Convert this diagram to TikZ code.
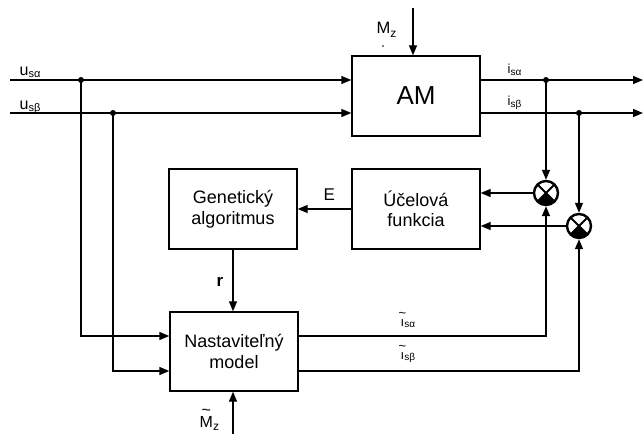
\documentclass[tikz,border=0pt]{standalone}
\usepackage{fontspec}
\setmainfont{Liberation Sans}
\usetikzlibrary{arrows.meta,calc}
\newcommand\tld[2]{\ooalign{#2\cr\hidewidth\raisebox{#1}{\textasciitilde}\hidewidth\cr}}
\newcommand\sbs[3]{\raisebox{-#1}{\fontsize{#2}{#2}\selectfont #3}}
\newcommand\fsz[1]{\fontsize{#1}{#1}\selectfont}
\begin{document}
\begin{tikzpicture}[x=1bp,y=-1bp,line width=1.4bp,
  arr/.style={-{Triangle[length=10bp,width=8bp]}},
  blk/.style={draw,rectangle,minimum width=128bp,minimum height=80bp,inner sep=0pt,align=center,font=\fontsize{18bp}{20.5bp}\selectfont},
  jdot/.style={circle,fill,inner sep=0pt,minimum size=6bp},
  lbl/.style={anchor=base west,inner sep=0pt},
  sumnode/.style={circle,draw,line width=2.4bp,minimum size=24bp,inner sep=0pt,
    path picture={\draw[line width=1.9bp] (path picture bounding box.south west) -- (path picture bounding box.north east)
      (path picture bounding box.north west) -- (path picture bounding box.south east);
      \fill (path picture bounding box.center) -- (path picture bounding box.south west) -- (path picture bounding box.south east) -- cycle;}}]
\useasboundingbox (0,0) rectangle (643,434);
% blocks
\node[blk,font=\fontsize{26bp}{26bp}\selectfont] (AM) at (416,96) {AM};
\node[blk] (UF) at (416,209) {Účelová\\funkcia};
\node[blk] (GA) at (233,209) {Genetický\\algoritmus};
\node[blk,minimum height=79bp] (NM) at (234,351.5) {Nastaviteľný\\model};
% sums
\node[sumnode] (S1) at (546,193) {};
\node[sumnode] (S2) at (579,226) {};
% coordinates
\coordinate (inA) at (10,80);
\coordinate (inB) at (10,113);
\coordinate (outA) at (643,80);
\coordinate (outB) at (643,113);
\coordinate (yA) at (0,336);
\coordinate (yB) at (0,371);
\coordinate (mzTop) at (413,8);
\coordinate (mtBot) at (233,434);
% junction dots
\node[jdot] (jA) at (81,80) {};
\node[jdot] (jB) at (113,113) {};
\node[jdot] (oA) at (546,80) {};
\node[jdot] (oB) at (579,113) {};
% connectors
\draw[arr] (inA) -- (inA -| AM.west);
\draw[arr] (inB) -- (inB -| AM.west);
\draw[arr] (jA.center) |- (NM.west |- yA);
\draw[arr] (jB.center) |- (NM.west |- yB);
\draw[arr] (AM.east |- inA) -- (outA);
\draw[arr] (AM.east |- inB) -- (outB);
\draw[arr] (oA.center) -- (S1.north);
\draw[arr] (oB.center) -- (S2.north);
\draw[arr] (S1.west) -- (S1.west -| UF.east);
\draw[arr] (S2.west) -- (S2.west -| UF.east);
\draw[arr] (UF.west) -- (GA.east);
\draw[arr] (GA.south) -- (GA.south |- NM.north);
\draw[arr] (NM.east |- yA) -| (S1.south);
\draw[arr] (NM.east |- yB) -| (S2.south);
\draw[arr] (mzTop) -- (mzTop |- AM.north);
\draw[arr] (mtBot) -- (mtBot |- NM.south);
% labels
\node[lbl,font=\fsz{16bp}] (lua) at (19,76) {u\sbs{1.5bp}{11bp}{sα}};
\node[lbl,font=\fsz{16bp}] (lub) at (19,110) {u\sbs{1.5bp}{11bp}{sβ}};
\node[lbl,font=\fsz{13bp}] (lia) at (507,74) {i\sbs{1.5bp}{10bp}{sα}};
\node[lbl,font=\fsz{13bp}] (lib) at (507,106) {i\sbs{1.5bp}{10bp}{sβ}};
\node[lbl,font=\fsz{16.5bp}] (lmz) at (376,34) {M\sbs{4bp}{12bp}{z}};
\node[circle,fill,inner sep=0pt,minimum size=1.8bp] (mzdot) at (383,46) {};
\node[lbl,font=\fsz{17bp}] (lE) at (323,201) {E};
\node[lbl,font=\fsz{17bp}\bfseries] (lr) at (216,287) {r};
\node[lbl,font=\fsz{13bp}] (lta) at (400,326) {\tld{0.62em}{ı}\sbs{1.5bp}{10bp}{sα}};
\node[lbl,font=\fsz{13bp}] (ltb) at (400,359) {\tld{0.62em}{ı}\sbs{1.5bp}{10bp}{sβ}};
\node[lbl,font=\fsz{16bp}] (ltm) at (199,427) {\tld{0.72em}{M}\sbs{3bp}{12bp}{z}};
\end{tikzpicture}
\end{document}
